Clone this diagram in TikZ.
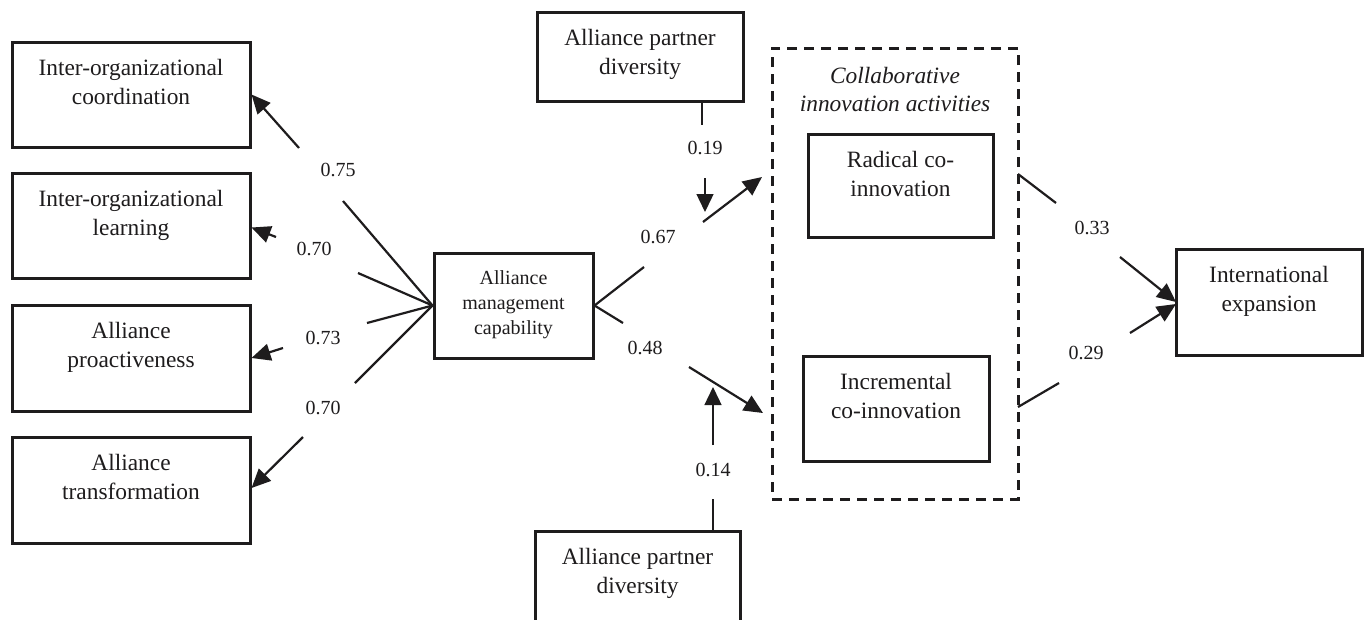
\documentclass[tikz,border=0pt]{standalone}
\usepackage{fontspec}
\setmainfont{Liberation Serif}
\usetikzlibrary{arrows.meta}
\definecolor{ink}{RGB}{30,28,29}
\begin{document}
\begin{tikzpicture}[x=1pt,y=-1pt,
  box/.style={draw=ink, line width=3pt, inner sep=0pt},
  boxtxt/.style={anchor=north, align=center, inner sep=0pt, font=\fontsize{23.4}{29}\selectfont, text=ink},
  smalltxt/.style={anchor=north, align=center, inner sep=0pt, font=\fontsize{20}{25}\selectfont, text=ink},
  num/.style={inner sep=0pt, font=\fontsize{20}{24}\selectfont, text=ink},
  conn/.style={draw=ink, line width=2.2pt},
  arr/.style={conn, -{Triangle[length=19pt,width=17pt]}},
  thinconn/.style={draw=ink, line width=1.4pt},
  thinarr/.style={thinconn, -{Triangle[length=18pt,width=17pt]}},
  dashbox/.style={draw=ink, line width=3pt, dash pattern=on 10pt off 7pt, inner sep=0pt}
]
\useasboundingbox (0,0) rectangle (1367,619);
\fill[white] (0,0) rectangle (1367,619);

% left boxes
\node[box, minimum width=238pt, minimum height=105pt] (b1) at (131,94.5) {};
\node[box, minimum width=238pt, minimum height=105pt] (b2) at (131,225.5) {};
\node[box, minimum width=238pt, minimum height=106pt] (b3) at (131,358) {};
\node[box, minimum width=238pt, minimum height=106pt] (b4) at (131,490) {};
\node[boxtxt] (b1t) at ([yshift=-19pt]b1.north) {Inter-organizational\\coordination};
\node[boxtxt] (b2t) at ([yshift=-19pt]b2.north) {Inter-organizational\\learning};
\node[boxtxt] (b3t) at ([yshift=-19pt]b3.north) {Alliance\\proactiveness};
\node[boxtxt] (b4t) at ([yshift=-19pt]b4.north) {Alliance\\transformation};

% central box
\node[box, minimum width=159pt, minimum height=105pt] (amc) at (513.5,305.5) {};
\node[smalltxt] (amct) at ([yshift=-19pt]amc.north) {Alliance\\management\\capability};

% partner diversity boxes
\node[box, minimum width=206pt, minimum height=89pt] (apd1) at (640,56.5) {};
\node[boxtxt] (apd1t) at ([yshift=-19pt]apd1.north) {Alliance partner\\diversity};
\node[box, minimum width=205pt, minimum height=92pt] (apd2) at (637.5,577) {};
\node[boxtxt] (apd2t) at ([yshift=-19pt]apd2.north) {Alliance partner\\diversity};

% collaborative innovation activities
\node[dashbox, minimum width=246pt, minimum height=451pt] (cia) at (895,273.5) {};
\node[boxtxt, font=\fontsize{23.4}{28}\selectfont\itshape] (ciat) at ([yshift=-21pt]cia.north) {Collaborative\\innovation activities};
\node[box, minimum width=185pt, minimum height=103pt] (rad) at (900.5,185.5) {};
\node[boxtxt] (radt) at ([yshift=-19pt]rad.north) {Radical co-\\innovation};
\node[box, minimum width=186pt, minimum height=105pt] (inc) at (896,408.5) {};
\node[boxtxt] (inct) at ([yshift=-19pt]inc.north) {Incremental\\co-innovation};

% international expansion
\node[box, minimum width=186pt, minimum height=106pt] (int) at (1269,302) {};
\node[boxtxt] (intt) at ([yshift=-19pt]int.north) {International\\expansion};

% numbers
\node[num] (n1) at (338,170) {0.75};
\node[num] (n2) at (314,249) {0.70};
\node[num] (n3) at (323,338) {0.73};
\node[num] (n4) at (323,408) {0.70};
\node[num] (n19) at (705,148) {0.19};
\node[num] (n67) at (658,237) {0.67};
\node[num] (n48) at (645,348) {0.48};
\node[num] (n14) at (713,470) {0.14};
\node[num] (n33) at (1092,228) {0.33};
\node[num] (n29) at (1086,353) {0.29};

% break points of the connectors
\coordinate (c1a) at (343,201); \coordinate (c1b) at (299,148);
\coordinate (c2a) at (358,273); \coordinate (c2b) at (276,237);
\coordinate (c3a) at (367,323); \coordinate (c3b) at (283,348);
\coordinate (c4a) at (355,383); \coordinate (c4b) at (303,437);
\coordinate (c67a) at (644,267); \coordinate (c67b) at (703,222); \coordinate (t67) at (762,177);
\coordinate (c48a) at (623,323); \coordinate (c48b) at (689,367); \coordinate (t48) at (763,413);
\coordinate (s19) at (702,101); \coordinate (c19a) at (702,125); \coordinate (c19b) at (705,178); \coordinate (t19) at (705,212);
\coordinate (s14) at (713,531); \coordinate (c14a) at (713,499); \coordinate (c14b) at (713,445); \coordinate (t14) at (713,387);
\coordinate (s33) at (1018,174); \coordinate (c33a) at (1056,203); \coordinate (c33b) at (1120,257); \coordinate (t33) at (1176,302);
\coordinate (s29) at (1018,407); \coordinate (c29a) at (1059,383); \coordinate (c29b) at (1130,333); \coordinate (t29) at (1176,304);

% loadings
\draw[conn] (amc.west) -- (c1a); \draw[arr] (c1b) -- (b1.east);
\draw[conn] (amc.west) -- (c2a); \draw[arr] (c2b) -- ([yshift=-2pt]b2.east);
\draw[conn] (amc.west) -- (c3a); \draw[arr] (c3b) -- (b3.east);
\draw[conn] (amc.west) -- (c4a); \draw[arr] (c4b) -- ([yshift=2pt]b4.east);

% paths
\draw[conn] (amc.east) -- (c67a); \draw[arr] (c67b) -- (t67);
\draw[conn] (amc.east) -- (c48a); \draw[arr] (c48b) -- (t48);
\draw[thinconn] (s19) -- (c19a); \draw[thinarr] (c19b) -- (t19);
\draw[thinconn] (s14) -- (c14a); \draw[thinarr] (c14b) -- (t14);
\draw[conn] (s33) -- (c33a); \draw[arr] (c33b) -- (t33);
\draw[conn] (s29) -- (c29a); \draw[arr] (c29b) -- (t29);
\end{tikzpicture}
\end{document}
